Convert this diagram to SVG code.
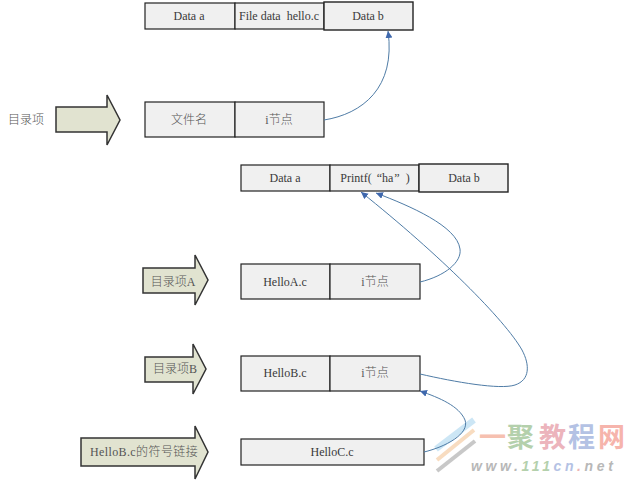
<svg xmlns="http://www.w3.org/2000/svg" width="640" height="483" viewBox="0 0 640 483">
<defs>
<marker id="ah" markerUnits="userSpaceOnUse" markerWidth="9" markerHeight="9" refX="7" refY="3.5" orient="auto"><path d="M0 0L7 3.5L0 7Z" fill="#3f68ad"/></marker>
</defs>
<style>
text{font-family:"Liberation Serif","Noto Sans CJK SC",serif;font-size:12px;fill:#3a3a3a;text-anchor:middle}
.z{fill:#555;font-weight:300}
.b{fill:#f0f0f0;stroke:#222;stroke-width:1.2}
.t{fill:#f0f0f0;stroke:#222;stroke-width:1.4}
.a{fill:#e1e3d0;stroke:#333;stroke-width:1.5}
.c{fill:none;stroke:#4f7ca6;stroke-width:1;marker-end:url(#ah)}
.s{text-anchor:start}
.w{font-family:"Noto Sans CJK SC",sans-serif;font-size:27px;font-weight:700;text-anchor:start}
</style>
<rect width="640" height="483" fill="#fff"/>
<g id="row1">
<g id="n-data-a1"><rect class="b" x="145" y="3" width="90" height="26"/><text x="189" y="20">Data a</text></g>
<g id="n-filedata"><rect class="b" x="235" y="3" width="89" height="26"/><text x="279" y="20">File data&#160; hello.c</text></g>
<g id="n-data-b1"><rect class="t" x="324" y="2" width="89" height="28"/><text x="368" y="20">Data b</text></g>
</g>
<g id="row2">
<g id="arrow-dir"><text class="z" x="26" y="124">目录项</text><path class="a" d="M56 107H107V95L120 120L107 145V132H56Z"/></g>
<g id="n-filename"><rect class="b" x="145" y="102" width="90" height="35"/><text class="z" x="189" y="124">文件名</text></g>
<g id="n-inode"><rect class="b" x="235" y="102" width="89" height="35"/><text class="z" x="279" y="124">i节点</text></g>
</g>
<g id="row3">
<g id="n-data-a2"><rect class="b" x="241" y="165" width="89" height="26"/><text x="285" y="182">Data a</text></g>
<g id="n-printf"><rect class="b" x="330" y="165" width="89" height="26"/><text x="375" y="182">Printf(<tspan dx="5">“</tspan>ha<tspan dx="1">”</tspan><tspan dx="6">)</tspan></text></g>
<g id="n-data-b2"><rect class="t" x="419" y="164" width="89" height="28"/><text x="464" y="182">Data b</text></g>
</g>
<g id="rowA">
<g id="arrow-a"><path class="a" d="M143 268H195V255L208 280L195 305V293H143Z"/><text class="z" x="173" y="286">目录项A</text></g>
<g id="n-helloa"><rect class="b" x="241" y="264" width="89" height="35"/><text x="285" y="286">HelloA.c</text></g>
<g id="n-inode-a"><rect class="b" x="330" y="264" width="90" height="35"/><text class="z" x="375" y="286">i节点</text></g>
</g>
<g id="rowB">
<g id="arrow-b"><path class="a" d="M145 357H193V344L206 369L193 394V382H145Z"/><text class="z" x="175" y="373">目录项B</text></g>
<g id="n-hellob"><rect class="b" x="241" y="356" width="89" height="35"/><text x="285" y="377">HelloB.c</text></g>
<g id="n-inode-b"><rect class="b" x="330" y="356" width="90" height="35"/><text class="z" x="375" y="377">i节点</text></g>
</g>
<g id="rowC">
<g id="arrow-c"><path class="a" d="M81 438H195V426L208 452L195 479V466H81Z"/><text class="z" x="144" y="456" style="letter-spacing:.4px">HelloB.c的符号链接</text></g>
<g id="n-helloc"><rect class="b" x="241" y="439" width="183" height="26"/><text x="332" y="456">HelloC.c</text></g>
</g>
<g id="watermark">
<path d="M436 449L474 420" stroke="#bfe0f2" stroke-width="6" opacity=".8" fill="none"/>
<path d="M437 460L474 430" stroke="#f8dcc0" stroke-width="4" fill="none"/>
<path d="M437 471L475 441" stroke="#c8c8c8" stroke-width="4" fill="none"/>
<text x="479" y="447" class="w" style="fill:#f6c0b0">一</text>
<text x="507" y="447" class="w" style="fill:#b4d0ac">聚</text>
<text x="539" y="447" class="w" style="fill:#ecb4bc">教</text>
<text x="568" y="447" class="w" style="fill:#b4c2e4">程</text>
<text x="598" y="447" class="w" style="fill:#f6b4ac">网</text>
<text x="471" y="471" class="s" style="font-family:'Liberation Sans',sans-serif;font-size:14px;font-weight:700;font-style:italic;letter-spacing:3.6px;fill:#b8b8b8">www.<tspan style="fill:#b4d0ac">111</tspan><tspan style="fill:#b4c2e4">cn</tspan><tspan style="fill:#ecb4b4">.</tspan>net</text>
</g>
<g id="connectors">
<path class="c" d="M324 120C362 114 396 88 388 31"/>
<path class="c" d="M420 282C445 276 462 262 460 249C457 226 410 206 376 193"/>
<path class="c" d="M420 374C455 382 500 390 515 385C530 380 530 365 522 350C505 320 440 255 361 192"/>
<path class="c" d="M424 452C445 447 470 434 465 420C459 406 440 398 420 391"/>
</g>
</svg>
